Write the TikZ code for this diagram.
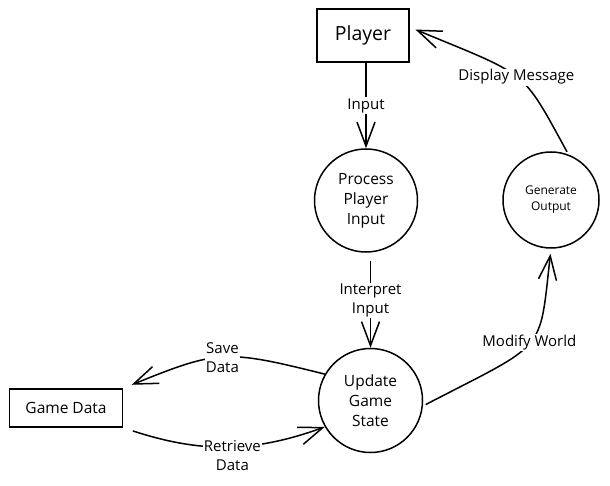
\documentclass[tikz,border=0pt]{standalone}
\usepackage{fontspec}
\setmainfont{Open Sans}
\usetikzlibrary{arrows.meta}

\begin{document}
\begin{tikzpicture}[x=1pt, y=1pt,
    entity/.style={draw, line width=1.7pt, inner sep=0pt},
    proc/.style={draw, circle, line width=1.5pt, inner sep=0pt, align=center},
    flow/.style={line width=1.5pt, -{Straight Barb[length=24pt, width=18pt, line width=1.5pt]}},
    lbl/.style={fill=white, inner sep=1pt, align=center, font=\fontsize{15}{19}\selectfont}]

\useasboundingbox (0,0) rectangle (610,485);

% external entities
\node[entity, minimum width=92pt, minimum height=53pt, font=\fontsize{19.5}{23}\selectfont] (player) at (363,449.5) {Player};
\node[entity, minimum width=113pt, minimum height=38pt, font=\fontsize{15.5}{18}\selectfont] (gamedata) at (66,77) {Game Data};

% processes
\node[proc, minimum size=103pt, font=\fontsize{15.5}{20}\selectfont] (process) at (366,284.5) {Process\\Player\\Input};
\node[proc, minimum size=104pt, font=\fontsize{15.5}{20}\selectfont] (update) at (370.5,84.5) {Update\\Game\\State};
\node[proc, minimum size=96pt, font=\fontsize{12}{16}\selectfont] (generate) at (551,285) {Generate\\Output};

% data flows
\draw[flow] (player.south -| process.north) -- node[lbl]{Input} (process.north);
\draw[flow, shorten <=8pt] (process.south -| update.north) -- node[lbl]{Interpret\\Input} (update.north);
\draw[flow, shorten <=3pt, shorten >=5pt] (update.-6) .. controls (548,144) and (539,130) .. node[lbl]{Modify World} (generate.south);
\draw[flow, shorten <=3pt, shorten >=6pt] (generate.69) .. controls (521,417) and (530,408) .. node[lbl]{Display Message} (player.10);
\draw[flow, shorten >=9pt] (update.150) to[out=166, in=22, looseness=1.3] node[lbl]{Save\\Data} (gamedata.north east);
\draw[flow, shorten <=10pt] (gamedata.south east) to[out=-18, in=-160] node[lbl, xshift=8pt, yshift=-9pt]{Retrieve\\Data} (update.210);
\end{tikzpicture}
\end{document}
